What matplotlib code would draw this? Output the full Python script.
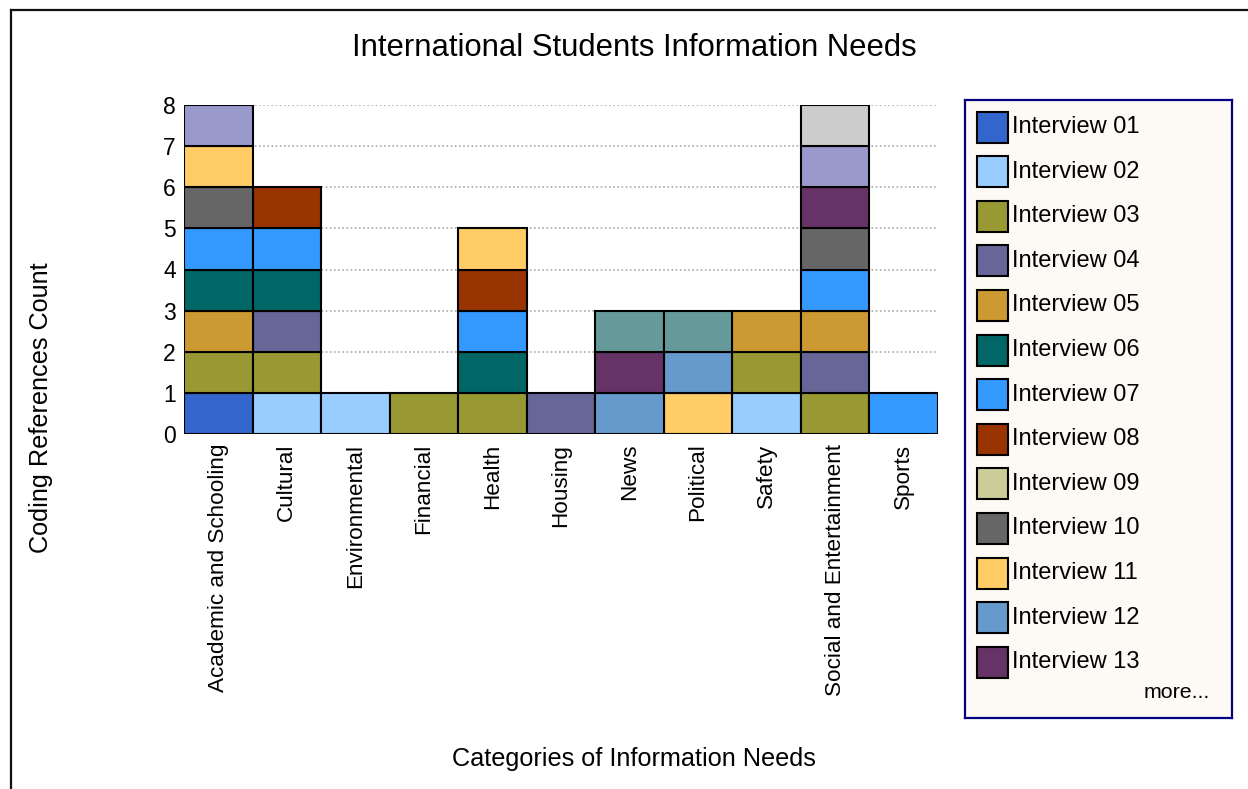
'''
Stacked bar chart of coding references per information-need category
'''
import numpy as np
import matplotlib
matplotlib.use('Agg')
import matplotlib.pyplot as plt
from matplotlib.patches import Rectangle
from matplotlib.lines import Line2D

plt.rcParams['font.family'] = ['Liberation Sans', 'DejaVu Sans']

categories = ['Academic and Schooling', 'Cultural', 'Environmental', 'Financial',
              'Health', 'Housing', 'News', 'Political', 'Safety',
              'Social and Entertainment', 'Sports']

interviews = ['Interview %02d' % i for i in range(1, 17)]

colors = ['#3366CC', '#99CCFF', '#999933', '#666699', '#CC9933', '#006666',
          '#3399FF', '#993300', '#CCCC99', '#666666', '#FFCC66', '#6699CC',
          '#663366', '#9999CC', '#669999', '#CCCCCC']

# one row per interview, one column per category (1 = coded there)
coded = np.array([
    [1, 0, 0, 0, 0, 0, 0, 0, 0, 0, 0],  # 01
    [0, 1, 1, 0, 0, 0, 0, 0, 1, 0, 0],  # 02
    [1, 1, 0, 1, 1, 0, 0, 0, 1, 1, 0],  # 03
    [0, 1, 0, 0, 0, 1, 0, 0, 0, 1, 0],  # 04
    [1, 0, 0, 0, 0, 0, 0, 0, 1, 1, 0],  # 05
    [1, 1, 0, 0, 1, 0, 0, 0, 0, 0, 0],  # 06
    [1, 1, 0, 0, 1, 0, 0, 0, 0, 1, 1],  # 07
    [0, 1, 0, 0, 1, 0, 0, 0, 0, 0, 0],  # 08
    [0, 0, 0, 0, 0, 0, 0, 0, 0, 0, 0],  # 09
    [1, 0, 0, 0, 0, 0, 0, 0, 0, 1, 0],  # 10
    [1, 0, 0, 0, 1, 0, 0, 1, 0, 0, 0],  # 11
    [0, 0, 0, 0, 0, 0, 1, 1, 0, 0, 0],  # 12
    [0, 0, 0, 0, 0, 0, 1, 0, 0, 1, 0],  # 13
    [1, 0, 0, 0, 0, 0, 0, 0, 0, 1, 0],  # 14
    [0, 0, 0, 0, 0, 0, 1, 1, 0, 0, 0],  # 15
    [0, 0, 0, 0, 0, 0, 0, 0, 0, 1, 0],  # 16
])

legend_shown = 13

W, H = 1248, 789


def main():
    fig = plt.figure(figsize=(W / 100, H / 100), dpi=100)
    ax = fig.add_axes([184 / W, (H - 434) / H, (938 - 184) / W, (434 - 105) / H])

    x = np.arange(len(categories))
    bottom = np.zeros(len(categories))
    for name, color, row in zip(interviews, colors, coded):
        mask = row > 0
        ax.bar(x[mask], row[mask], width=1.0, bottom=bottom[mask], color=color,
               edgecolor='black', linewidth=1.5, zorder=3, label=name)
        bottom += row

    ax.set_xlim(-0.5, len(categories) - 0.5)
    ax.set_ylim(0, 8)
    ax.set_yticks(range(0, 9))
    ax.set_xticks(x)
    ax.set_xticklabels(categories, rotation=90, fontsize=16.2)
    ax.tick_params(axis='both', length=0)
    ax.tick_params(axis='y', labelsize=16.5, pad=6)
    ax.tick_params(axis='x', pad=7)
    for s in ax.spines.values():
        s.set_visible(False)
    for yv in range(1, 9):
        ax.axhline(yv, color='#AAAAAA', linestyle=(0, (1, 1.5)), linewidth=1.2, zorder=1)

    fig.text(634 / W, 1 - 48 / H, 'International Students Information Needs',
             ha='center', va='center', fontsize=22.3)
    fig.text(634 / W, 1 - 759 / H, 'Categories of Information Needs',
             ha='center', va='center', fontsize=18.2)
    fig.text(41 / W, 1 - 408 / H, 'Coding References Count', rotation=90,
             ha='center', va='center', fontsize=18.2)

    # legend box drawn in pixel units
    lx0, lx1, ly0, ly1 = 965, 1232, 100, 718
    lax = fig.add_axes([lx0 / W, (H - ly1) / H, (lx1 - lx0) / W, (ly1 - ly0) / H])
    lax.set_xlim(0, lx1 - lx0)
    lax.set_ylim(ly1 - ly0, 0)
    lax.set_xticks([])
    lax.set_yticks([])
    lax.set_facecolor('#FDFAF5')
    for s in lax.spines.values():
        s.set_color('#000080')
        s.set_linewidth(1.6)
    for i in range(legend_shown):
        cy = 27 + i * 44.6
        lax.add_patch(Rectangle((12, cy - 15.5), 31, 31, facecolor=colors[i],
                                edgecolor='black', linewidth=1.5))
        lax.text(47, cy, interviews[i], ha='left', va='center', fontsize=17)
    lax.text(245, 592, 'more...', ha='right', va='center', fontsize=15.4)

    # frame lines along the top and left edges
    fig.add_artist(Line2D([10.5 / W, 1], [1 - 9.5 / H, 1 - 9.5 / H],
                          color='#111111', linewidth=1.6))
    fig.add_artist(Line2D([10.5 / W, 10.5 / W], [0, 1 - 9.5 / H],
                          color='#111111', linewidth=1.6))

    fig.savefig('out.png', dpi=100)


if __name__ == '__main__':
    main()
